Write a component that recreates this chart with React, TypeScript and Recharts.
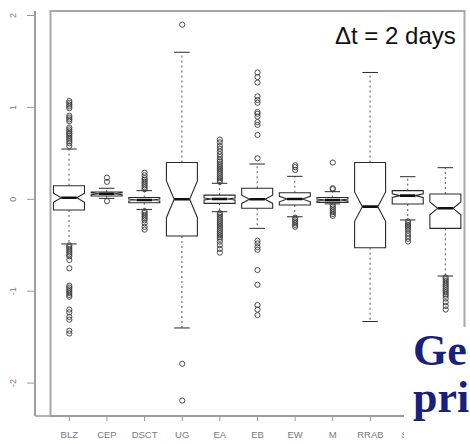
import React from "react";
import { ComposedChart, Bar, Scatter, XAxis, YAxis, ReferenceArea } from "recharts";

const categories = ["BLZ", "CEP", "DSCT", "UG", "EA", "EB", "EW", "M", "RRAB", "SR", "RRC"];
const whiskerLow = [-0.486, 0.01, -0.11, -1.4, -0.135, -0.316, -0.19, -0.05, -1.33, -0.225, -0.835];
const q1 = [-0.116, 0.036, -0.037, -0.4, -0.044, -0.098, -0.062, -0.033, -0.527, -0.051, -0.316];
const median = [0.017, 0.06, -0.008, 0.0, 0.003, 0.0, 0.003, -0.008, -0.08, 0.04, -0.098];
const q3 = [0.148, 0.08, 0.02, 0.4, 0.045, 0.12, 0.072, 0.02, 0.4, 0.094, 0.058];
const whiskerHigh = [0.547, 0.12, 0.094, 1.6, 0.174, 0.384, 0.25, 0.083, 1.38, 0.246, 0.344];
const notchHalf = [0.05, 0.01, 0.01, 0.2, 0.01, 0.045, 0.03, 0.01, 0.16, 0.02, 0.07];

const outBLZ = [1.07, 1.05, 1.03, 1.01, 0.99, 0.91, 0.89, 0.87, 0.85, 0.78, 0.76, 0.74, 0.72, 0.71, 0.69, 0.67, 0.65, 0.63, 0.61, 0.58,
  -0.5, -0.52, -0.54, -0.56, -0.58, -0.6, -0.62, -0.66, -0.75, -0.94, -0.96, -0.98, -1.0, -1.02, -1.04, -1.06, -1.2, -1.23, -1.28, -1.31, -1.43, -1.46];
const outCEP = [0.235, 0.19, -0.02];
const outDSCT = [0.11, 0.13, 0.15, 0.17, 0.19, 0.21, 0.23, 0.26, 0.29, -0.13, -0.15, -0.17, -0.19, -0.21, -0.23, -0.26, -0.3, -0.33];
const outUG = [1.9, -1.79, -2.19];
const outEA = [0.19, 0.21, 0.23, 0.25, 0.27, 0.29, 0.31, 0.33, 0.35, 0.37, 0.39, 0.41, 0.43, 0.46, 0.49, 0.52, 0.55, 0.58, 0.62, 0.65,
  -0.15, -0.17, -0.19, -0.21, -0.23, -0.25, -0.27, -0.29, -0.31, -0.33, -0.35, -0.37, -0.39, -0.41, -0.43, -0.46, -0.5, -0.54, -0.58];
const outEB = [0.446, 0.7, 0.81, 0.84, 0.9, 0.93, 0.95, 1.05, 1.08, 1.12, 1.27, 1.33, 1.38, -0.45, -0.48, -0.52, -0.55, -0.77, -0.93, -1.15, -1.2, -1.26];
const outEW = [0.32, 0.35, 0.37, -0.2, -0.22, -0.24, -0.26, -0.28, -0.3];
const outM = [0.4, 0.11, 0.12, -0.06, -0.08, -0.1, -0.12, -0.14, -0.16, -0.18];
const outRRAB: number[] = [];
const outSR = [-0.24, -0.26, -0.28, -0.3, -0.32, -0.34, -0.37, -0.4, -0.43, -0.46];
const outRRC = [-0.85, -0.87, -0.89, -0.91, -0.93, -0.95, -0.97, -0.99, -1.01, -1.03, -1.05, -1.08, -1.12, -1.16, -1.2];
const outliers = [outBLZ, outCEP, outDSCT, outUG, outEA, outEB, outEW, outM, outRRAB, outSR, outRRC];

const yTicks = [-2, -1, 0, 1, 2];
const yDomain = [-2.358, 2.049];

const rows = categories.map((name, i) => ({
  name,
  lo: whiskerLow[i],
  q1: q1[i],
  med: median[i],
  q3: q3[i],
  hi: whiskerHigh[i],
  notch: notchHalf[i],
}));

const outlierRows = categories.flatMap((name, i) => outliers[i].map((v) => ({ name, out: v })));

const BOX = "#2a2a2a";

function renderBox(props: any) {
  const { x, y, width, height } = props;
  const d = props.payload || props;
  if (x == null || y == null) return <g />;
  const top = Math.min(y, y + height);
  const h = Math.abs(height);
  const k = h / (d.hi - d.lo);
  const Y = (v: number) => top + (d.hi - v) * k;
  const cx = x + width / 2;
  const w = width / 2;
  const nf = 0.5;
  const xs = [-1, 1, 1, nf, 1, 1, -1, -1, -nf, -1].map((f) => cx + f * w);
  const ys = [d.q1, d.q1, d.med - d.notch, d.med, d.med + d.notch, d.q3, d.q3, d.med + d.notch, d.med, d.med - d.notch].map(Y);
  const pts = xs.map((px, i) => `${px},${ys[i]}`).join(" ");
  return (
    <g>
      <line x1={cx} x2={cx} y1={Y(d.q3)} y2={Y(d.hi)} stroke="#555" strokeWidth={1} strokeDasharray="2 3" />
      <line x1={cx} x2={cx} y1={Y(d.q1)} y2={Y(d.lo)} stroke="#555" strokeWidth={1} strokeDasharray="2 3" />
      <line x1={cx - w * 0.5} x2={cx + w * 0.5} y1={Y(d.hi)} y2={Y(d.hi)} stroke={BOX} strokeWidth={1} />
      <line x1={cx - w * 0.5} x2={cx + w * 0.5} y1={Y(d.lo)} y2={Y(d.lo)} stroke={BOX} strokeWidth={1} />
      <polygon points={pts} fill="#fff" stroke={BOX} strokeWidth={1.1} />
      <line x1={cx - w * nf} x2={cx + w * nf} y1={Y(d.med)} y2={Y(d.med)} stroke="#111" strokeWidth={2.6} />
    </g>
  );
}

function renderPoint(props: any) {
  const { cx, cy } = props;
  if (cx == null || cy == null) return <g />;
  return <circle cx={cx} cy={cy} r={2.6} fill="none" stroke="#3a3a3a" strokeWidth={0.9} />;
}

function XTick(props: any) {
  const { x, y, payload } = props;
  return (
    <text x={x} y={y + 15} textAnchor="middle" fontSize={9.5} fill="#7a7a7a" fontFamily="Liberation Sans, Arial, sans-serif">
      {payload.value}
    </text>
  );
}

function YTick(props: any) {
  const { x, y, payload } = props;
  const tx = x - 12;
  return (
    <text x={tx} y={y} transform={`rotate(-90, ${tx}, ${y})`} textAnchor="middle" dominantBaseline="central" fontSize={9} fill="#7a7a7a" fontFamily="Liberation Sans, Arial, sans-serif">
      {payload.value}
    </text>
  );
}

export default function App() {
  return (
    <div style={{ position: "absolute", left: 0, top: 0, width: 470, height: 444, overflow: "hidden", background: "#fff" }}>
      <ComposedChart width={480} height={444} data={rows} margin={{ top: 11, right: 0, bottom: 0, left: 0 }}>
        <XAxis
          dataKey="name"
          type="category"
          allowDuplicatedCategory={false}
          padding={{ left: 15.5, right: 15.5 }}
          height={28}
          tickSize={5}
          interval={0}
          axisLine={{ stroke: "#9a9a9a", strokeWidth: 1.5 }}
          tickLine={{ stroke: "#9a9a9a" }}
          tick={<XTick />}
        />
        <YAxis
          type="number"
          domain={yDomain}
          ticks={yTicks}
          allowDataOverflow
          width={35}
          tickSize={8}
          axisLine={{ stroke: "#a0a0a0", strokeWidth: 2 }}
          tickLine={{ stroke: "#9a9a9a" }}
          tick={<YTick />}
        />
        <ReferenceArea y1={yDomain[0]} y2={yDomain[1]} fill="none" stroke="#a8a8a8" strokeWidth={2} ifOverflow="visible" />
        <Bar dataKey={(d: any) => [d.lo, d.hi]} barSize={31} shape={renderBox} isAnimationActive={false} />
        <Scatter data={outlierRows} dataKey="out" shape={renderPoint} isAnimationActive={false} />
      </ComposedChart>
      <div
        style={{
          position: "absolute",
          left: 335,
          top: 22,
          fontFamily: "Liberation Sans, Arial, sans-serif",
          fontSize: 24,
          lineHeight: "normal",
          color: "#111",
          whiteSpace: "nowrap",
        }}
      >
        Δt = 2 days
      </div>
      <div
        style={{
          position: "absolute",
          left: 404,
          top: 326.6,
          width: 80,
          height: 120,
          background: "#fff",
          paddingLeft: 9,
          boxSizing: "border-box",
          fontFamily: "Liberation Serif, Times New Roman, serif",
          fontWeight: "bold",
          fontSize: 44,
          lineHeight: "47px",
          color: "#1a1f7a",
          whiteSpace: "nowrap",
        }}
      >
        <div>Ge</div>
        <div>pri</div>
      </div>
    </div>
  );
}
